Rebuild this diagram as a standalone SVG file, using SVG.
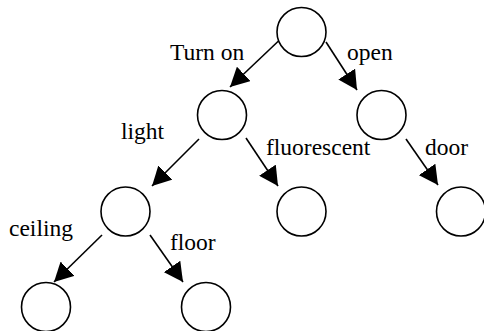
<svg xmlns="http://www.w3.org/2000/svg" width="484" height="331" viewBox="0 0 484 331">
<style>
.n{fill:#fff;stroke:#000;stroke-width:1.6}
.e{stroke:#000;stroke-width:1.6;fill:none;marker-end:url(#ah)}
.t{font-family:"Liberation Serif","Times New Roman",serif;font-size:23.5px;fill:#000}
</style>
<defs>
<marker id="ah" markerUnits="userSpaceOnUse" markerWidth="19" markerHeight="20" refX="19" refY="10" orient="auto" viewBox="0 0 19 20">
<path d="M0,0 L19,10 L0,20 z" fill="#000"/>
</marker>
</defs>
<rect width="484" height="331" fill="#fff"/>
<g id="connectors">
<line class="e" x1="278.5" y1="41" x2="230" y2="87"/>
<line class="e" x1="326" y1="42" x2="357" y2="90"/>
<line class="e" x1="199" y1="139" x2="152" y2="186"/>
<line class="e" x1="246" y1="138" x2="278" y2="186"/>
<line class="e" x1="406" y1="139" x2="438" y2="185"/>
<line class="e" x1="102" y1="235" x2="54" y2="282"/>
<line class="e" x1="150" y1="235" x2="183" y2="282"/>
</g>
<g id="root"><circle class="n" cx="301.5" cy="32" r="24.5"/></g>
<g id="turnon"><circle class="n" cx="222" cy="115" r="24.5"/></g>
<g id="open"><circle class="n" cx="381.5" cy="115" r="24.5"/></g>
<g id="light"><circle class="n" cx="125.5" cy="211.5" r="24.5"/></g>
<g id="fluorescent"><circle class="n" cx="301.5" cy="211.5" r="24.5"/></g>
<g id="door"><circle class="n" cx="461" cy="211.5" r="24.5"/></g>
<g id="ceiling"><circle class="n" cx="46" cy="307" r="24.5"/></g>
<g id="floor"><circle class="n" cx="206" cy="307" r="24.5"/></g>
<g id="labels">
<text class="t" x="170" y="60">Turn on</text>
<text class="t" x="347" y="60">open</text>
<text class="t" x="121" y="139">light</text>
<text class="t" x="266" y="155">fluorescent</text>
<text class="t" x="425" y="155">door</text>
<text class="t" x="9" y="236">ceiling</text>
<text class="t" x="170" y="250">floor</text>
</g>
</svg>
